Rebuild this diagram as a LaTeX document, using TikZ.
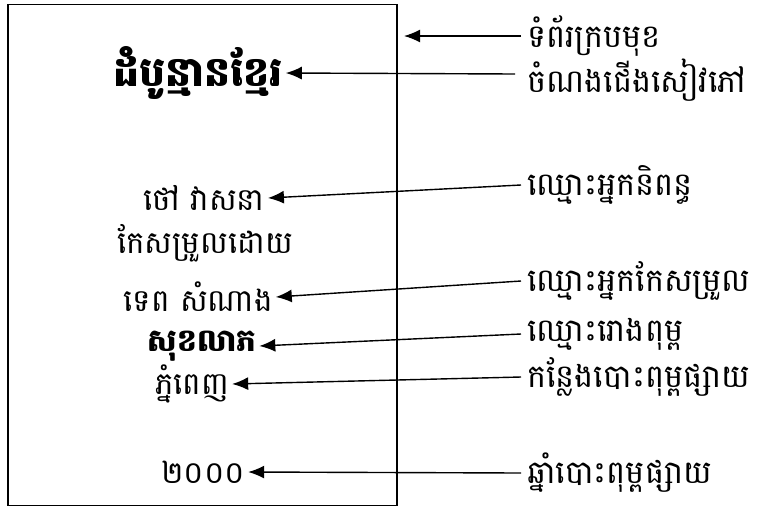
\documentclass[tikz,border=0pt]{standalone}
\usepackage{fontspec}
\usetikzlibrary{arrows.meta}
\newfontfamily\khmer[Script=Khmer]{Battambang}
\begin{document}
\begin{tikzpicture}[x=1pt,y=-1pt,
  item/.style={font=\khmer\fontsize{31}{36}\selectfont, inner sep=3pt},
  bolditem/.style={font=\khmer\bfseries\fontsize{31}{36}\selectfont, inner sep=3pt},
  lab/.style={font=\khmer\fontsize{32}{36}\selectfont, anchor=west, inner sep=0pt},
  conn/.style={line width=1.4pt, -{Latex[length=16pt,width=13pt]}}]
\useasboundingbox (0,0) rectangle (762,507);
\node[draw, line width=1.8pt, minimum width=389pt, minimum height=501pt, inner sep=0pt] (frame) at (202.5,255) {};
\node[bolditem, font=\khmer\bfseries\fontsize{41}{46}\selectfont] (title) at (198,73) {ដំបូន្មានខ្មែរ};
\node[item] (author) at (204,198) {ថៅ វាសនា};
\node[item] (editedby) at (205,243) {កែសម្រួលដោយ};
\node[item] (editor) at (198,297) {ទេព សំណាង};
\node[bolditem] (press) at (202,346) {សុខលាភ};
\node[item] (city) at (192,384) {ភ្នំពេញ};
\node[item] (year) at (203,472) {២០០០};
\coordinate (covertip) at (404,36);
\node[lab] (lcover) at (527,36) {ទំព័រក្របមុខ};
\node[lab] (ltitle) at (527,80) {ចំណងជើងសៀវភៅ};
\node[lab] (lauthor) at (527,185) {ឈ្មោះអ្នកនិពន្ធ};
\node[lab] (leditor) at (527,281) {ឈ្មោះអ្នកកែសម្រួល};
\node[lab] (lpress) at (527,334) {ឈ្មោះរោងពុម្ព};
\node[lab] (lcity) at (527,377) {កន្លែងបោះពុម្ពផ្សាយ};
\node[lab] (lyear) at (527,473) {ឆ្នាំបោះពុម្ពផ្សាយ};
\draw[conn] ([xshift=-6pt]lcover.west) -- (covertip);
\draw[conn] ([xshift=-12pt,yshift=6pt]ltitle.west) -- (title.east);
\draw[conn] ([xshift=-6pt]lauthor.west) -- (author.east);
\draw[conn] ([xshift=-6pt]leditor.west) -- (editor.east);
\draw[conn] ([xshift=-6pt]lpress.west) -- (press.east);
\draw[conn] ([xshift=-6pt]lcity.west) -- (city.east);
\draw[conn] ([xshift=-6pt]lyear.west) -- (year.east);
\end{tikzpicture}
\end{document}
